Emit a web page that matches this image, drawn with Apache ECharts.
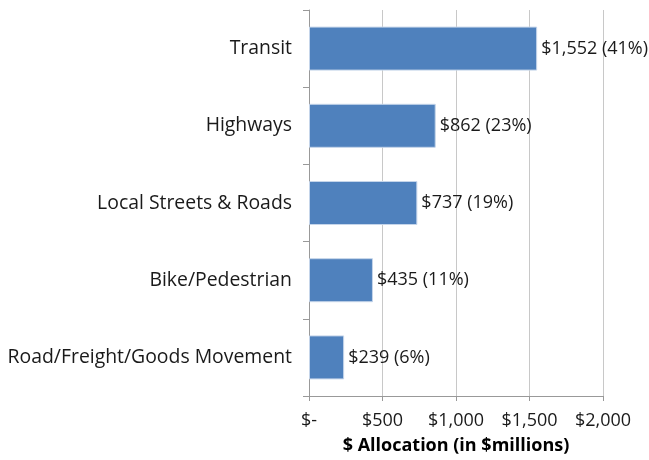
<!DOCTYPE html>
<html><head><meta charset="utf-8">
<script src="https://cdn.jsdelivr.net/npm/echarts@6/dist/echarts.min.js"></script>
<style>html,body{margin:0;padding:0;background:#fff}#c{width:649px;height:460px}</style>
</head><body><div id="c"></div>
<script>
const categories = ["Transit", "Highways", "Local Streets & Roads", "Bike/Pedestrian", "Road/Freight/Goods Movement"];
const values = [1552, 862, 737, 435, 239];
const shares = ["41%", "23%", "19%", "11%", "6%"];
const tickLabels = {0: "$-", 500: "$500", 1000: "$1,000", 1500: "$1,500", 2000: "$2,000"};
const FONT = "Open Sans";
const chart = echarts.init(document.getElementById('c'));
chart.setOption({
  animation: false,
  grid: {left: 309, right: 46, top: 10, bottom: 62, containLabel: false},
  xAxis: {
    type: 'value', min: 0, max: 2000, interval: 500,
    name: '$ Allocation (in $millions)', nameLocation: 'middle', nameGap: 41,
    nameTextStyle: {fontFamily: FONT, fontSize: 18, fontWeight: 'bold', color: '#000'},
    axisLine: {show: true, lineStyle: {color: '#999'}},
    axisTick: {show: true, length: 5, lineStyle: {color: '#999'}},
    axisLabel: {fontFamily: FONT, fontSize: 18, color: '#1a1a1a', margin: 16, formatter: v => tickLabels[v]},
    splitLine: {show: true, lineStyle: {color: '#c8c8c8'}}
  },
  yAxis: {
    type: 'category', data: categories, inverse: true,
    axisLine: {show: true, lineStyle: {color: '#999'}},
    axisTick: {show: true, length: 6, lineStyle: {color: '#999'}},
    axisLabel: {fontFamily: FONT, fontSize: 19.4, color: '#1a1a1a', margin: 17}
  },
  series: [{
    type: 'bar', data: values, barWidth: 44,
    itemStyle: {color: '#4F81BD', borderColor: '#c5d5ea', borderWidth: 1},
    label: {show: true, position: 'right', distance: 4, fontFamily: FONT, fontSize: 18, color: '#1a1a1a',
      formatter: p => '$' + p.value.toLocaleString('en-US') + ' (' + shares[p.dataIndex] + ')'}
  }]
});
</script></body></html>
